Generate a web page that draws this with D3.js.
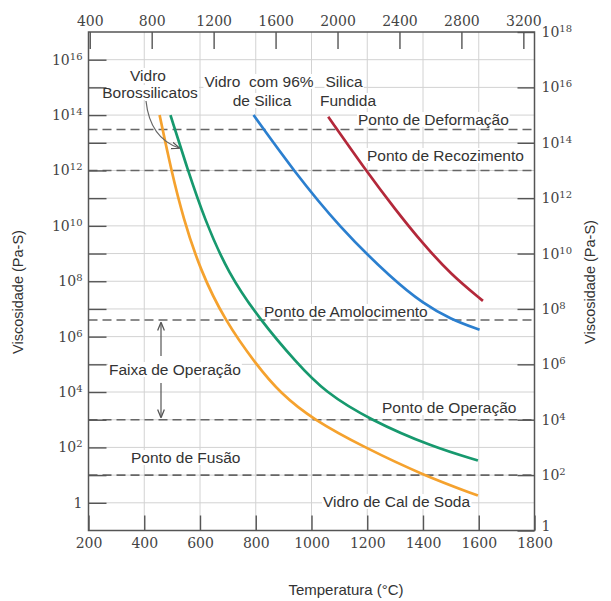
<!DOCTYPE html>
<html><head><meta charset="utf-8">
<script src="https://cdn.jsdelivr.net/npm/d3@7"></script>
<style>body{margin:0;background:#fff}</style>
</head><body>
<svg id="chart" width="611" height="601"></svg>
<script>
// ---------- data ----------
const bottomTicksC = [200, 400, 600, 800, 1000, 1200, 1400, 1600, 1800];
const topTicksF = [400, 800, 1200, 1600, 2000, 2400, 2800, 3200];
const leftTickExps = [0,1,2,3,4,5,6,7,8,9,10,11,12,13,14,15,16];
const rightTickExps = [0,2,4,6,8,10,12,14,16,18];
const gridLinesC = [400, 600, 800, 1000, 1200, 1400, 1600];

// temperatures (°C) and log10 viscosity (Pa·s)
const sodaLimeT   = [455, 497, 540, 600, 690, 804, 887, 1006, 1190, 1400, 1597];
const sodaLimeLog = [14.0, 12.0, 10.28, 8.42, 6.56, 4.96, 3.97, 3.0, 2.0, 1.0, 0.26];
const borosilT    = [494, 555, 616, 700, 816, 947, 1048, 1209, 1436, 1597];
const borosilLog  = [14.0, 12.05, 10.25, 8.3, 6.6, 5.05, 4.0, 3.0, 2.01, 1.53];
const silica96T   = [792, 935, 1100, 1293, 1400, 1500, 1603];
const silica96Log = [14.0, 12.0, 9.95, 8.05, 7.2, 6.62, 6.25];
const fusedT      = [1060, 1195, 1300, 1400, 1500, 1615];
const fusedLog    = [13.94, 12.0, 10.6, 9.35, 8.25, 7.29];

const refNames  = ["Ponto de Deformação", "Ponto de Recozimento", "Ponto de Amolocimento", "Ponto de Operação", "Ponto de Fusão"];
const refValues = [3e13, 1e12, 4e6, 1e3, 1e1];

// ---------- setup ----------
const svg = d3.select("#chart");
const L = 88.5, R = 534.5, T = 32, B = 530.5;
const x = d3.scaleLinear().domain([200, 1800]).range([L, R]);
const xF = d3.scaleLinear().domain([200*1.8+32, 1800*1.8+32]).range([L, R]);
const y = d3.scaleLog().domain([1e-1, 1e17]).range([B, T]);
const yR = d3.scaleLog().domain([1, 1e18]).range([B, T]);

const gridCol = "#d2d2d2", axisCol = "#555", txtCol = "#333";
const tickFont = "'DejaVu Serif', serif";
const lblFont = "'Liberation Sans', Arial, sans-serif";

// grid
const grid = svg.append("g");
grid.selectAll("line.v").data(gridLinesC).join("line")
  .attr("x1", d => x(d)).attr("x2", d => x(d)).attr("y1", T).attr("y2", B)
  .attr("stroke", gridCol).attr("stroke-width", 1);
grid.selectAll("line.h").data(leftTickExps).join("line")
  .attr("x1", L).attr("x2", R).attr("y1", d => y(Math.pow(10, d))).attr("y2", d => y(Math.pow(10, d)))
  .attr("stroke", gridCol).attr("stroke-width", 1);

// label backgrounds layer (filled later)
const bgLayer = svg.append("g");

// reference dashed lines
svg.append("g").selectAll("line").data(refValues).join("line")
  .attr("x1", L).attr("x2", R).attr("y1", d => y(d)).attr("y2", d => y(d))
  .attr("stroke", "#666").attr("stroke-width", 1.6).attr("stroke-dasharray", "9,5");

// curves
const series = [
  {t: sodaLimeT, v: sodaLimeLog, c: "#f5a22e"},
  {t: borosilT, v: borosilLog, c: "#17996e"},
  {t: silica96T, v: silica96Log, c: "#2b7fcf"},
  {t: fusedT, v: fusedLog, c: "#b3283a"}
];
const line = d3.line().x(d => x(d[0])).y(d => y(Math.pow(10, d[1]))).curve(d3.curveBasis);
svg.append("g").selectAll("path").data(series).join("path")
  .attr("d", s => line(s.t.map((t, i) => [t, s.v[i]])))
  .attr("fill", "none").attr("stroke", s => s.c).attr("stroke-width", 2.7);

// axes
function styleAxis(g) {
  g.select(".domain").remove();
  g.selectAll(".tick line").attr("stroke", axisCol).attr("stroke-width", 1.4);
  g.selectAll(".tick text").attr("fill", "#444").style("font-family", tickFont).style("font-size", "14px");
}
svg.append("g").attr("transform", `translate(0,${B})`)
  .call(d3.axisBottom(x).tickValues(bottomTicksC).tickSizeInner(-15).tickSizeOuter(0).tickPadding(8).tickFormat(d3.format("d")))
  .call(styleAxis);
svg.append("g").attr("transform", `translate(0,${T})`)
  .call(d3.axisTop(xF).tickValues(topTicksF).tickSizeInner(-17).tickSizeOuter(0).tickPadding(6).tickFormat(d3.format("d")))
  .call(styleAxis);

function powLabels(g, exps, showFn, zeroDy) {
  g.selectAll(".tick text").each(function(d) {
    const e = Math.round(Math.log10(d));
    const t = d3.select(this).text("");
    if (!showFn(e)) return;
    if (e === 0) { t.text("1"); if (zeroDy) t.attr("dy", zeroDy); return; }
    t.append("tspan").text("10");
    t.append("tspan").attr("dy", "-0.5em").style("font-size", "10px").text(e);
  });
}
svg.append("g").attr("transform", `translate(${L},0)`)
  .call(d3.axisLeft(y).tickValues(leftTickExps.map(e => Math.pow(10, e))).tickSizeInner(-18).tickSizeOuter(0).tickPadding(6))
  .call(styleAxis)
  .call(g => powLabels(g, leftTickExps, e => e % 2 === 0, null));
svg.append("g").attr("transform", `translate(${R},0)`)
  .call(d3.axisRight(yR).tickValues(rightTickExps.map(e => Math.pow(10, e))).tickSizeInner(-17).tickSizeOuter(0).tickPadding(7))
  .call(styleAxis)
  .call(g => powLabels(g, rightTickExps, e => true, "0.02em"));

// frame
svg.append("rect").attr("x", L).attr("y", T).attr("width", R - L).attr("height", B - T)
  .attr("fill", "none").attr("stroke", axisCol).attr("stroke-width", 1.5);

// axis titles
svg.append("text").attr("transform", "translate(23,292) rotate(-90)").attr("text-anchor", "middle")
  .style("font-family", lblFont).style("font-size", "14.5px").attr("fill", txtCol).text("Viscosidade (Pa-S)");
svg.append("text").attr("transform", "translate(595,282) rotate(-90)").attr("text-anchor", "middle")
  .style("font-family", lblFont).style("font-size", "14.5px").attr("fill", txtCol).text("Viscosidade (Pa-S)");
svg.append("text").attr("x", 346).attr("y", 595).attr("text-anchor", "middle")
  .style("font-family", lblFont).style("font-size", "15px").attr("fill", txtCol).text("Temperatura (°C)");

// annotations
const ann = [
  {s: "Vidro", x: 148, y: 81, a: "middle"},
  {s: "Borossilicatos", x: 150, y: 98, a: "middle"},
  {s: "Vidro  com 96%", x: 259, y: 87, a: "middle"},
  {s: "de Silica", x: 262, y: 106, a: "middle"},
  {s: "Silica", x: 344, y: 87, a: "middle"},
  {s: "Fundida", x: 348, y: 106, a: "middle"},
  {s: refNames[0], x: 358, y: 125, a: "start"},
  {s: refNames[1], x: 367, y: 161, a: "start"},
  {s: refNames[2], x: 264, y: 317, a: "start"},
  {s: "Faixa de Operação", x: 109, y: 375, a: "start"},
  {s: refNames[3], x: 382, y: 413, a: "start"},
  {s: refNames[4], x: 131, y: 463, a: "start"},
  {s: "Vidro de Cal de Soda", x: 323, y: 507, a: "start"}
];
const annG = svg.append("g");
ann.forEach(d => {
  const t = annG.append("text").attr("x", d.x).attr("y", d.y).attr("text-anchor", d.a)
    .style("font-family", lblFont).style("font-size", "15.5px").style("white-space", "pre")
    .attr("fill", txtCol).text(d.s);
  const bb = t.node().getBBox();
  bgLayer.append("rect").attr("x", bb.x - 1).attr("y", bb.y + 1).attr("width", bb.width + 2).attr("height", bb.height - 2)
    .attr("fill", "#fff");
});

// arrows
const defs = svg.append("defs");
defs.append("marker").attr("id", "ah").attr("viewBox", "0 0 10 10").attr("refX", 9).attr("refY", 5)
  .attr("markerWidth", 7).attr("markerHeight", 7).attr("orient", "auto-start-reverse")
  .append("path").attr("d", "M0,1 L10,5 L0,9").attr("fill", "none").attr("stroke", "#555").attr("stroke-width", 1.5);
svg.append("path").attr("d", "M146,101 Q150,138 179,148").attr("fill", "none")
  .attr("stroke", "#666").attr("stroke-width", 1.2).attr("marker-end", "url(#ah)");
svg.append("line").attr("x1", 161).attr("x2", 161).attr("y1", 356).attr("y2", 323)
  .attr("stroke", "#555").attr("stroke-width", 1.2).attr("marker-end", "url(#ah)");
svg.append("line").attr("x1", 161).attr("x2", 161).attr("y1", 383).attr("y2", 417)
  .attr("stroke", "#555").attr("stroke-width", 1.2).attr("marker-end", "url(#ah)");
</script>
</body></html>
